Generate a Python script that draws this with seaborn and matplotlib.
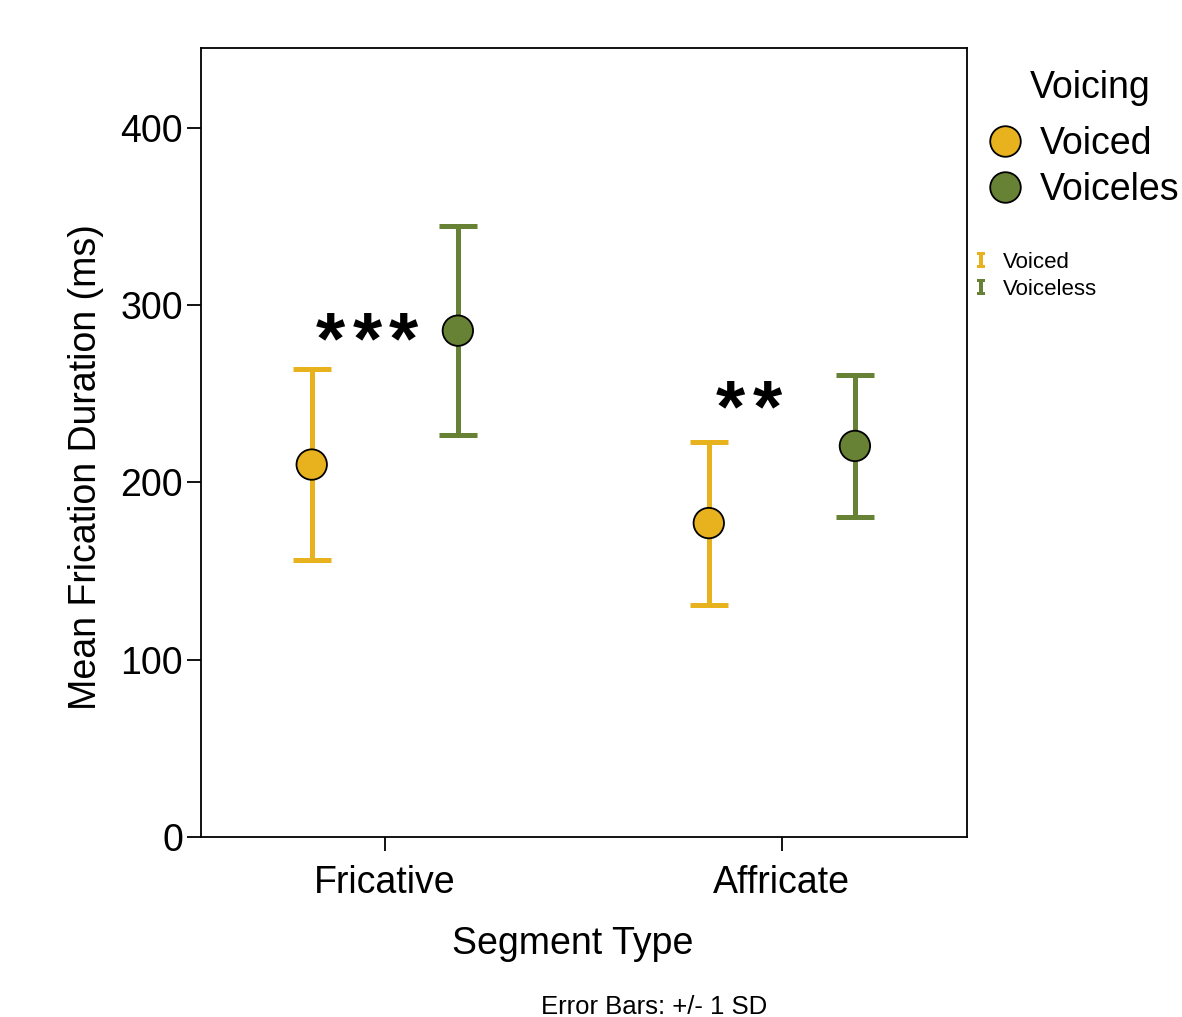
import numpy as np
import pandas as pd
import matplotlib
matplotlib.use("Agg")
import matplotlib.pyplot as plt
from matplotlib.lines import Line2D
from matplotlib.path import Path
import seaborn as sns

# Values
SEGMENTS = ["Fricative", "Affricate"]
VOICING = ["Voiced", "Voiceless"]
MEAN_VOICED = [210, 177]
MEAN_VOICELESS = [285.5, 220.5]
SD_VOICED = [54, 46]
SD_VOICELESS = [59, 40]
STARS = [3, 2]                       # number of asterisks per segment
STAR_CENTER = [-0.045, -0.084]       # offset from the category centre
STAR_Y = [267, 229]                  # baseline of the asterisks (ms)

COLORS = {"Voiced": "#E8B21E", "Voiceless": "#678234"}
DODGE = 0.184
STAR_PITCH = 0.093

sns.set_style("white")
plt.rcParams["font.family"] = ["Liberation Sans", "DejaVu Sans"]
for k in ["text.color", "axes.labelcolor", "xtick.color", "ytick.color"]:
    plt.rcParams[k] = "black"

rows = []
for i, seg in enumerate(SEGMENTS):
    rows.append(dict(Segment=seg, Voicing="Voiced", mean=MEAN_VOICED[i], sd=SD_VOICED[i], pos=i - DODGE))
    rows.append(dict(Segment=seg, Voicing="Voiceless", mean=MEAN_VOICELESS[i], sd=SD_VOICELESS[i], pos=i + DODGE))
df = pd.DataFrame(rows)

fig = plt.figure(figsize=(11.82, 10.17), dpi=100)
ax = fig.add_axes([0.170, 0.177, 0.648, 0.776])

# error bars (behind markers)
for v in VOICING:
    sub = df[df.Voicing == v]
    ax.errorbar(sub["pos"], sub["mean"], yerr=sub["sd"], fmt="none",
                ecolor=COLORS[v], elinewidth=3.6, capsize=13.5, capthick=3.6, zorder=2)

sns.scatterplot(data=df, x="pos", y="mean", hue="Voicing", palette=COLORS,
                hue_order=VOICING, s=480, edgecolor="black", linewidth=1.3,
                zorder=3, legend=False, ax=ax)

# significance stars
for i, n in enumerate(STARS):
    for k in range(n):
        xk = i + STAR_CENTER[i] + (k - (n - 1) / 2) * STAR_PITCH
        ax.text(xk, STAR_Y[i], "*", ha="center", va="baseline", fontsize=54,
                fontweight="bold")

ax.set_xlim(-0.463, 1.466)
ax.set_ylim(0, 445)
ax.set_xticks(range(len(SEGMENTS)))
ax.set_xticklabels(SEGMENTS)
ax.set_yticks([0, 100, 200, 300, 400])
ax.tick_params(axis="both", which="major", direction="out", length=10, width=1.3,
               labelsize=27, color="black", bottom=True, left=True)
ax.tick_params(axis="x", pad=10)
ax.tick_params(axis="y", pad=3)
ax.set_xlabel("Segment Type", fontsize=27, labelpad=18)
ax.set_ylabel("Mean Frication Duration (ms)", fontsize=27, labelpad=12)
ax.xaxis.label.set_x(0.486)
ax.yaxis.label.set_y(0.469)
for sp in ax.spines.values():
    sp.set_visible(True)
    sp.set_color("black")
    sp.set_linewidth(1.3)

# legend for the points
marker_handles = [Line2D([0], [0], marker="o", linestyle="none", markersize=22,
                         markerfacecolor=COLORS[v], markeredgecolor="black",
                         markeredgewidth=1.3) for v in VOICING]
fig.text(0.922, 0.913, "Voicing", ha="center", va="center", fontsize=27)
fig.legend(marker_handles, ["Voiced", "Voiceles"], loc="upper left",
           bbox_to_anchor=(0.834, 0.876), frameon=False, fontsize=27,
           handletextpad=0.45, labelspacing=0.26, handlelength=1.0,
           borderaxespad=0, borderpad=0)

# legend for the error bars, I-beam glyphs
ibeam = Path([(-0.5, -1), (0.5, -1), (0.5, -0.6), (0.22, -0.6), (0.22, 0.6),
              (0.5, 0.6), (0.5, 1), (-0.5, 1), (-0.5, 0.6), (-0.22, 0.6),
              (-0.22, -0.6), (-0.5, -0.6), (-0.5, -1)])
bar_handles = [Line2D([0], [0], marker=ibeam, linestyle="none", markersize=12,
                      markerfacecolor=COLORS[v], markeredgewidth=0) for v in VOICING]
fig.legend(bar_handles, VOICING, loc="upper left",
           bbox_to_anchor=(0.824, 0.752), frameon=False, fontsize=16,
           handlelength=0.6, handletextpad=0.7, labelspacing=0.25,
           borderaxespad=0, borderpad=0)

fig.text(0.553, 0.003, "Error Bars: +/- 1 SD", ha="center", va="baseline", fontsize=18.5)

fig.savefig("out.png", dpi=100)
